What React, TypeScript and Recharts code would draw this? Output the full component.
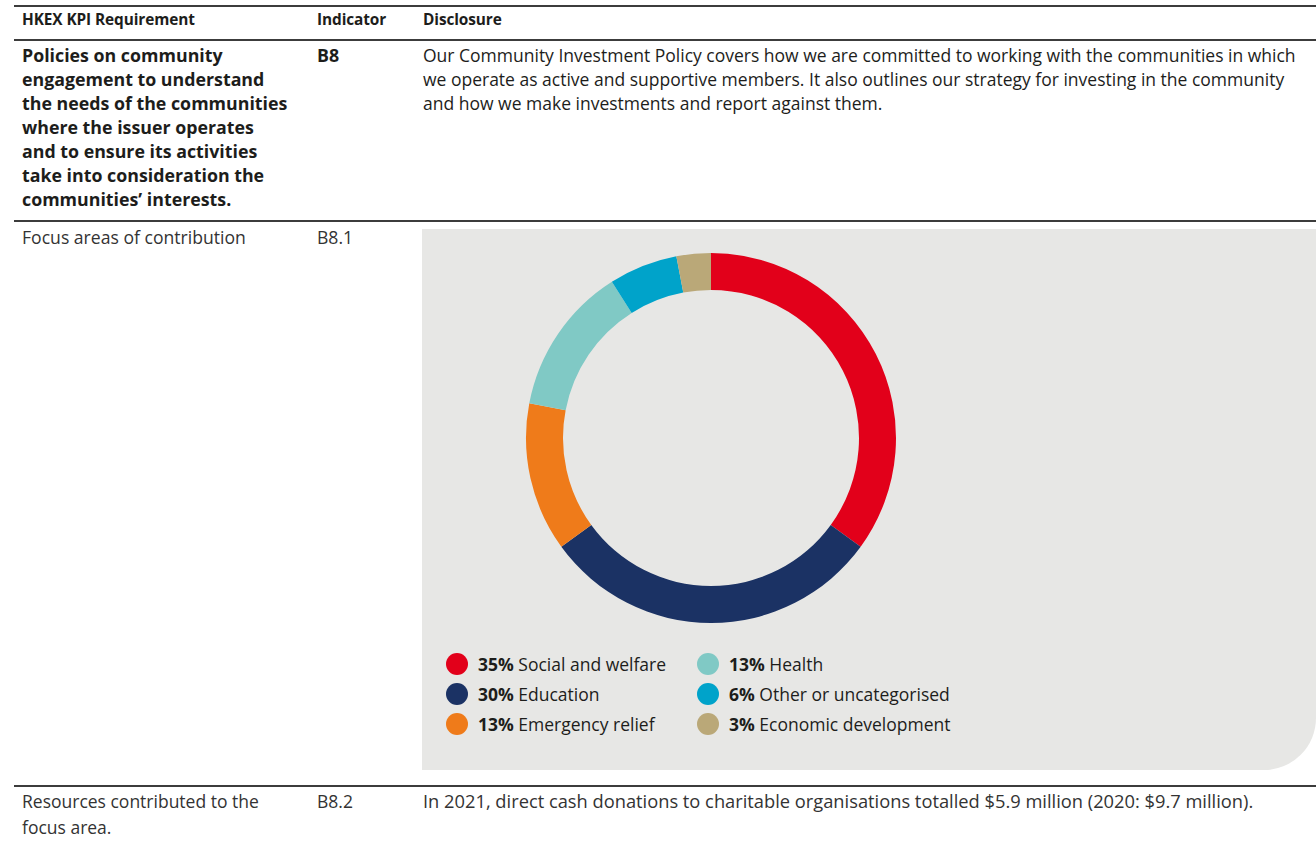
import React from "react";
import { PieChart, Pie, Cell, Legend } from "recharts";

const categories = [
  "Social and welfare",
  "Education",
  "Emergency relief",
  "Health",
  "Other or uncategorised",
  "Economic development",
];
const shares = [35, 30, 13, 13, 6, 3];
const colors = ["#E2001A", "#1B3264", "#EF7B1A", "#80C9C5", "#00A3CA", "#BAA878"];

const headerCols = ["HKEX KPI Requirement", "Indicator", "Disclosure"];
const row1Req = [
  "Policies on community",
  "engagement to understand",
  "the needs of the communities",
  "where the issuer operates",
  "and to ensure its activities",
  "take into consideration the",
  "communities\u2019 interests.",
];
const row1Ind = "B8";
const row1Text = [
  "Our Community Investment Policy covers how we are committed to working with the communities in which",
  "we operate as active and supportive members. It also outlines our strategy for investing in the community",
  "and how we make investments and report against them.",
];
const row2Req = ["Focus areas of contribution"];
const row2Ind = "B8.1";
const row3Req = ["Resources contributed to the", "focus area."];
const row3Ind = "B8.2";
const row3Text = [
  "In 2021, direct cash donations to charitable organisations totalled $5.9 million (2020: $9.7 million).",
];

const data = categories.map((name, i) => ({ name, value: shares[i], color: colors[i] }));

const FONT = "'Open Sans', 'DejaVu Sans', sans-serif";
const TEXT = "#1d1d1b";

const Lines = ({ lines, x, y, lh, style }: any) => (
  <div style={{ position: "absolute", left: x, top: y, lineHeight: lh + "px", whiteSpace: "nowrap", ...style }}>
    {lines.map((l: string, i: number) => (
      <div key={i}>{l}</div>
    ))}
  </div>
);

const HLine = ({ y }: { y: number }) => (
  <div style={{ position: "absolute", left: 14, top: y, width: 1302, height: 2, background: "#3c3c3c" }} />
);

const renderLegend = () => {
  const cols = [data.slice(0, 3), data.slice(3)];
  return (
    <div style={{ display: "flex", fontFamily: FONT, color: TEXT, fontSize: 17.5 }}>
      {cols.map((col, ci) => (
        <div key={ci} style={{ width: ci === 0 ? 251 : 300 }}>
          {col.map((d) => (
            <div key={d.name} style={{ display: "flex", alignItems: "center", height: 30 }}>
              <span
                style={{
                  display: "inline-block",
                  width: 22,
                  height: 22,
                  borderRadius: 11,
                  background: d.color,
                  marginRight: 10,
                  flexShrink: 0,
                }}
              />
              <span style={{ whiteSpace: "nowrap" }}>
                <b>{d.value}%</b> {d.name}
              </span>
            </div>
          ))}
        </div>
      ))}
    </div>
  );
};

export default function App() {
  return (
    <div
      style={{
        position: "absolute",
        left: 0,
        top: 0,
        width: 1316,
        height: 843,
        background: "#fff",
        fontFamily: FONT,
        color: TEXT,
        overflow: "hidden",
      }}
    >
      <HLine y={5} />
      <div style={{ position: "absolute", top: 10, left: 0, fontSize: 15.4, fontWeight: 700, lineHeight: "20px" }}>
        <span style={{ position: "absolute", left: 22, whiteSpace: "nowrap", letterSpacing: -0.1 }}>{headerCols[0]}</span>
        <span style={{ position: "absolute", left: 317, whiteSpace: "nowrap", letterSpacing: -0.1 }}>{headerCols[1]}</span>
        <span style={{ position: "absolute", left: 423, whiteSpace: "nowrap", letterSpacing: -0.1 }}>{headerCols[2]}</span>
      </div>
      <HLine y={39} />

      <Lines lines={row1Req} x={22} y={43} lh={24} style={{ fontSize: 17.8, fontWeight: 700 }} />
      <Lines lines={[row1Ind]} x={317} y={43} lh={24} style={{ fontSize: 17.8, fontWeight: 700 }} />
      <Lines lines={row1Text} x={423} y={43} lh={24} style={{ fontSize: 17.5 }} />

      <HLine y={220} />
      <Lines lines={row2Req} x={22} y={225} lh={24} style={{ fontSize: 17.6, color: "#333" }} />
      <Lines lines={[row2Ind]} x={317} y={225} lh={24} style={{ fontSize: 17.6, color: "#333" }} />

      <div
        style={{
          position: "absolute",
          left: 422,
          top: 229,
          width: 894,
          height: 541,
          background: "#E7E7E5",
          borderBottomRightRadius: 52,
        }}
      >
        <PieChart width={894} height={541} margin={{ top: 0, right: 0, bottom: 0, left: 0 }}>
          <Pie
            data={data}
            dataKey="value"
            nameKey="name"
            cx={289}
            cy={209}
            innerRadius={148}
            outerRadius={185}
            startAngle={90}
            endAngle={-270}
            stroke="none"
            isAnimationActive={false}
          >
            {data.map((d) => (
              <Cell key={d.name} fill={d.color} />
            ))}
          </Pie>
          <Legend
            content={renderLegend}
            wrapperStyle={{ position: "absolute", left: 24, top: 420, bottom: "auto", width: 600 }}
          />
        </PieChart>
      </div>

      <HLine y={785} />
      <Lines lines={row3Req} x={22} y={788} lh={26} style={{ fontSize: 17.5, color: "#333" }} />
      <Lines lines={[row3Ind]} x={317} y={788} lh={26} style={{ fontSize: 17.5, color: "#333" }} />
      <Lines lines={row3Text} x={423} y={788} lh={26} style={{ fontSize: 18.3, color: "#333" }} />
    </div>
  );
}
